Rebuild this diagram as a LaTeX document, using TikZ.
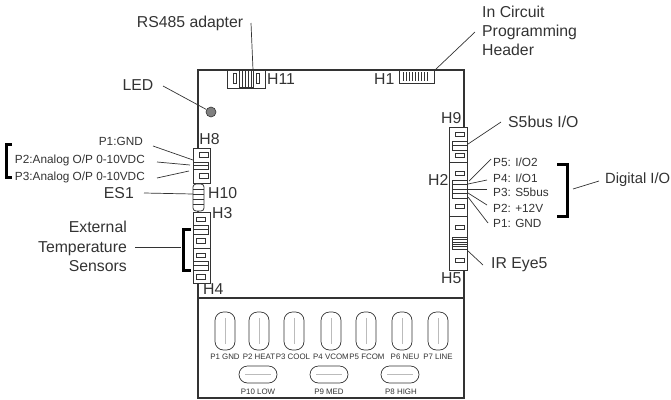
\documentclass[tikz,border=0pt]{standalone}
\usepackage{fontspec}
\setmainfont{Liberation Sans}
\definecolor{ink}{HTML}{333333}
\definecolor{soft}{HTML}{BBBBBB}
\tikzset{
  board/.style={draw=ink,line width=1.1pt},
  hdr/.style={draw=ink,line width=0.8pt,fill=white},
  pinbox/.style={draw=ink,line width=0.7pt,fill=white},
  leader/.style={draw=ink,line width=0.7pt},
  brk/.style={draw=black,line width=3pt},
  big/.style={font=\fontsize{15.8}{18}\selectfont,text=ink,inner sep=0pt},
  mid/.style={font=\fontsize{11.8}{14}\selectfont,text=ink,inner sep=0pt},
  tiny/.style={font=\fontsize{7.9}{10}\selectfont,text=ink,inner sep=0pt},
  oval/.style={draw=ink,line width=0.7pt,rounded corners=8.5pt},
  slit/.style={draw=soft,line width=0.7pt},
}
\begin{document}
\begin{tikzpicture}[x=1pt,y=-1pt]
\useasboundingbox (0,0) rectangle (671,399);
% board
\draw[board] (198,70) rectangle (464,298);
\draw[board] (198,298) rectangle (464,398);
% H11
\draw[hdr] (227,70) rectangle (265,88);
\draw[pinbox] (233,73) rectangle (236,83);
\draw[pinbox] (256,73) rectangle (259,83);
\draw[pinbox] (239,70) rectangle (253,87);
\foreach \x in {242,245,248,251} \draw[ink,line width=.6pt] (\x,70) -- (\x,87);
% H1
\draw[hdr] (399,70) rectangle (434,83);
\foreach \x in {403,406,409,412,415,418,421,424,427} \draw[ink,line width=.6pt] (\x,72) -- (\x,81);
% LED
\node[circle,draw=ink,fill=gray,line width=.6pt,minimum size=10pt,inner sep=0pt] (led) at (211,112) {};
% left headers
\draw[hdr] (193,148) rectangle (210,183);
\draw[pinbox] (199,152) rectangle (208,157);
\draw[pinbox] (193,162) rectangle (208,169);
\draw[ink,line width=.5pt] (193,165.5) -- (208,165.5);
\draw[pinbox] (199,173) rectangle (208,178);
\draw[hdr,rounded corners=3pt] (193,184) rectangle (204,211);
\foreach \y in {189,194,199,204} \draw[ink,line width=.6pt] (193,\y) -- (204,\y);
\draw[hdr] (193,212) rectangle (210,248);
\draw[hdr] (193,248) rectangle (210,283);
\draw[pinbox] (196,217) rectangle (205,221);
\draw[pinbox] (193,225) rectangle (208,234);
\draw[ink,line width=.5pt] (193,229.5) -- (208,229.5);
\draw[pinbox] (196,238) rectangle (205,243);
\draw[pinbox] (196,253) rectangle (205,257);
\draw[pinbox] (193,261) rectangle (208,270);
\draw[ink,line width=.5pt] (193,265.5) -- (208,265.5);
\draw[pinbox] (196,274) rectangle (205,279);
% right headers
\draw[hdr] (449,127) rectangle (467,162);
\draw[hdr] (449,162) rectangle (467,216);
\draw[hdr] (449,216) rectangle (467,270);
\draw[pinbox] (455,132) rectangle (464,136);
\draw[pinbox] (452,141) rectangle (467,150);
\draw[ink,line width=.5pt] (452,145.5) -- (467,145.5);
\draw[pinbox] (455,153) rectangle (464,157);
\draw[pinbox] (455,171) rectangle (464,175);
\draw[pinbox] (452,180) rectangle (467,198);
\foreach \y in {184.5,189,193.5} \draw[ink,line width=.5pt] (452,\y) -- (467,\y);
\draw[pinbox] (455,204) rectangle (464,208);
\draw[pinbox] (455,225) rectangle (464,229);
\draw[pinbox] (452,237) rectangle (467,249);
\foreach \y in {239.4,241.8,244.2,246.6} \draw[ink,line width=.5pt] (452,\y) -- (467,\y);
\draw[pinbox] (455,258) rectangle (464,262);
% terminals
\foreach \x in {225,259,294,331,366,402,438} {
  \draw[oval] (\x-10,312) rectangle (\x+10,350);
  \draw[slit] (\x,318) -- (\x,344);
}
\foreach \x in {258,329,400} {
  \draw[oval] (\x-19,366) rectangle (\x+19,383);
  \draw[slit] (\x-13,374.5) -- (\x+13,374.5);
}
\node[tiny] at (225,357) {P1 GND};
\node[tiny] at (259,357) {P2 HEAT};
\node[tiny] at (293,357) {P3 COOL};
\node[tiny] at (331,357) {P4 VCOM};
\node[tiny] at (367,357) {P5 FCOM};
\node[tiny] at (405,357) {P6 NEU};
\node[tiny] at (438,357) {P7 LINE};
\node[tiny] at (258,392) {P10 LOW};
\node[tiny] at (329,392) {P9 MED};
\node[tiny] at (401,392) {P8 HIGH};
% header labels
\node[big] at (209.5,139) {H8};
\node[big,anchor=west] at (208,193) {H10};
\node[big,anchor=west] at (212,213) {H3};
\node[big,anchor=west] at (203,289) {H4};
\node[big,anchor=west] at (441,118) {H9};
\node[big,anchor=west] at (428,180) {H2};
\node[big,anchor=west] at (441,278) {H5};
\node[big,anchor=west] at (267,79) {H11};
\node[big,anchor=west] at (374,79) {H1};
% callouts
\node[big] (rs) at (190,23) {RS485 adapter};
\node[big,anchor=west,align=left,font=\fontsize{15.8}{19}\selectfont] (icp) at (482,31) {In Circuit\\Programming\\Header};
\node[big] (ledl) at (138,85) {LED};
\node[mid,anchor=east] (p1l) at (143,141) {P1:GND};
\node[mid,anchor=east] (p2l) at (145,160) {P2:Analog O/P 0-10VDC};
\node[mid,anchor=east] (p3l) at (145,177) {P3:Analog O/P 0-10VDC};
\node[big,anchor=east] (es) at (134,193) {ES1};
\node[big,align=right,anchor=east,font=\fontsize{15.8}{19.5}\selectfont] (ext) at (127,246.5) {External\\Temperature\\Sensors};
\node[big,anchor=west] (s5) at (508,122) {S5bus I/O};
\node[mid,anchor=west] (r5) at (493,162) {P5: I/O2};
\node[mid,anchor=west] (r4) at (493,178) {P4: I/O1};
\node[mid,anchor=west] (r3) at (493,192) {P3: S5bus};
\node[mid,anchor=west] (r2) at (493,208) {P2: +12V};
\node[mid,anchor=west] (r1) at (493,223) {P1: GND};
\node[big,anchor=west] (ir) at (491,265) {IR Eye5};
\node[big,anchor=west,font=\fontsize{14.8}{18}\selectfont] (dio) at (605,180) {Digital I/O};
% leaders
\coordinate (a1) at (251,23); \coordinate (a2) at (253,70);
\draw[leader] (a1) -- (a2);
\coordinate (b1) at (475,32); \coordinate (b2) at (435,70);
\draw[leader] (b1) -- (b2);
\coordinate (c1) at (163,86);
\draw[leader] (c1) -- (led);
\coordinate (d1) at (153,146); \coordinate (d2) at (193,160);
\draw[leader] (d1) -- (d2);
\coordinate (e1) at (157,162); \coordinate (e2) at (190,165);
\draw[leader] (e1) -- (e2);
\coordinate (f1) at (157,178); \coordinate (f2) at (189,171);
\draw[leader] (f1) -- (f2);
\coordinate (g1) at (144,193); \coordinate (g2) at (193,194);
\draw[leader] (g1) -- (g2);
\coordinate (h1) at (135,247); \coordinate (h2) at (181,247);
\draw[leader] (h1) -- (h2);
\coordinate (i1) at (501,122); \coordinate (i2) at (468,144);
\draw[leader] (i1) -- (i2);
\coordinate (j1) at (491,159); \coordinate (j2) at (469,181);
\draw[leader] (j1) -- (j2);
\coordinate (k1) at (487,180); \coordinate (k2) at (468,184);
\draw[leader] (k1) -- (k2);
\coordinate (l1) at (487,189); \coordinate (l2) at (468,189);
\draw[leader] (l1) -- (l2);
\coordinate (m1) at (487,205); \coordinate (m2) at (468,193);
\draw[leader] (m1) -- (m2);
\coordinate (n1) at (488,223); \coordinate (n2) at (468,197);
\draw[leader] (n1) -- (n2);
\coordinate (o1) at (483,265); \coordinate (o2) at (468,251);
\draw[leader] (o1) -- (o2);
\coordinate (q1) at (573,189); \coordinate (q2) at (599,181);
\draw[leader] (q1) -- (q2);
% brackets
\draw[brk] (12,144) -- (6,144) -- (6,177) -- (12,177);
\draw[brk] (191,229) -- (183,229) -- (183,270) -- (191,270);
\draw[brk] (557,164.5) -- (567,164.5) -- (567,216.5) -- (557,216.5);
\end{tikzpicture}
\end{document}
